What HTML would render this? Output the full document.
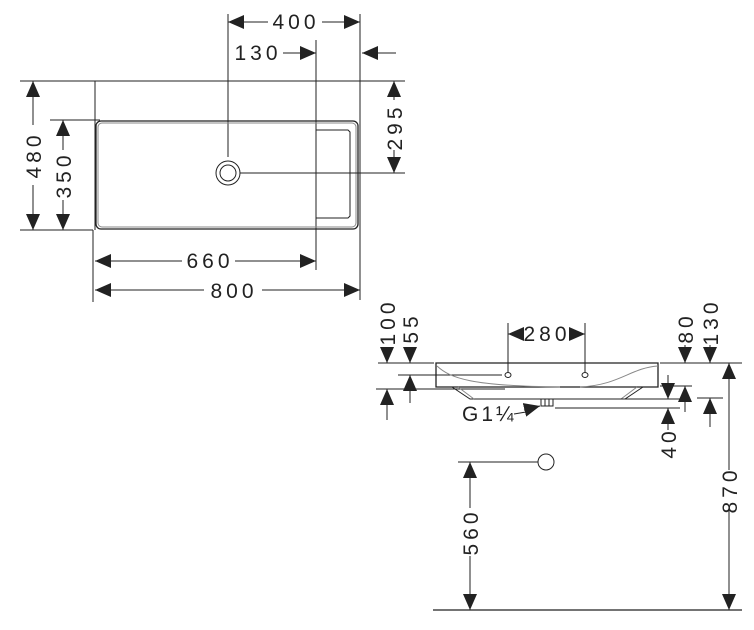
<!DOCTYPE html>
<html><head><meta charset="utf-8"><style>
html,body{margin:0;padding:0;background:#fff;width:754px;height:630px;overflow:hidden}
svg{display:block}
text{font-family:"Liberation Sans","DejaVu Sans",sans-serif;font-size:21px;fill:#222;letter-spacing:4px}
</style></head><body>
<svg width="754" height="630" viewBox="0 0 754 630" xmlns="http://www.w3.org/2000/svg">
<defs>
<marker id="a" viewBox="0 0 16 14" refX="16" refY="7" markerWidth="16" markerHeight="14" markerUnits="userSpaceOnUse" orient="auto-start-reverse"><path d="M0 0L16 7L0 14z" fill="#222"/></marker>
</defs>
<g stroke="#222" stroke-width="1" fill="none">
<line x1="20" y1="81" x2="405" y2="81"/>
<line x1="20" y1="230" x2="93" y2="230"/>
<line x1="50" y1="120" x2="100" y2="120"/>
<line x1="95" y1="81" x2="95" y2="230"/>
<line x1="93" y1="230" x2="93" y2="302"/>
<line x1="360" y1="14" x2="360" y2="300"/>
<line x1="228" y1="14" x2="228" y2="157"/>
<line x1="316" y1="40" x2="316" y2="270"/>
<rect x="96" y="121" width="262" height="108" rx="5" stroke-width="1.3"/>
<rect x="98" y="123" width="258" height="104" rx="4" stroke="#888"/>
<polyline points="316,130 348,130 350,132 350,216 348,218 316,218"/>
<circle cx="228" cy="173" r="12"/>
<circle cx="228" cy="173" r="8"/>
<line x1="240" y1="173" x2="405" y2="173"/>
<line x1="33" y1="125" x2="33" y2="81" marker-end="url(#a)"/>
<line x1="33" y1="185" x2="33" y2="230" marker-end="url(#a)"/>
<line x1="63" y1="150" x2="63" y2="120" marker-end="url(#a)"/>
<line x1="63" y1="200" x2="63" y2="230" marker-end="url(#a)"/>
<line x1="394" y1="100" x2="394" y2="81" marker-end="url(#a)"/>
<line x1="394" y1="150" x2="394" y2="173" marker-end="url(#a)"/>
<line x1="268" y1="22" x2="228" y2="22" marker-end="url(#a)"/>
<line x1="322" y1="22" x2="360" y2="22" marker-end="url(#a)"/>
<line x1="283" y1="53" x2="316" y2="53" marker-end="url(#a)"/>
<line x1="396" y1="53" x2="362" y2="53" marker-end="url(#a)"/>
<line x1="182" y1="261" x2="95" y2="261" marker-end="url(#a)"/>
<line x1="235" y1="261" x2="316" y2="261" marker-end="url(#a)"/>
<line x1="204" y1="290" x2="95" y2="290" marker-end="url(#a)"/>
<line x1="262" y1="290" x2="360" y2="290" marker-end="url(#a)"/>

<line x1="378" y1="363" x2="434" y2="363"/>
<line x1="660" y1="363" x2="742" y2="363"/>
<line x1="376" y1="389" x2="505" y2="389"/>
<line x1="398" y1="375" x2="502" y2="375"/>
<path d="M436 363H658V387H436Z" stroke-width="1.3"/>
<path d="M437 366C450 378 470 386 560 387" stroke="#888"/>
<path d="M658 366C630 368 620 385 580 387" stroke="#888"/>
<path d="M452 387L470 399H625L643 387"/>
<path d="M458 387L474 399M637 387L621 399" stroke="#888"/>
<rect x="541" y="399" width="12" height="7"/>
<line x1="545" y1="399" x2="545" y2="406"/><line x1="549" y1="399" x2="549" y2="406"/>
<line x1="553" y1="399" x2="680" y2="399"/>
<line x1="555" y1="408" x2="680" y2="408"/>
<line x1="660" y1="386" x2="692" y2="386"/>
<line x1="697" y1="398" x2="723" y2="398"/>
<ellipse cx="508" cy="375" rx="3" ry="2.5"/>
<ellipse cx="585" cy="375" rx="3" ry="2.5"/>
<line x1="508" y1="323" x2="508" y2="372"/>
<line x1="585" y1="323" x2="585" y2="372"/>
<line x1="524" y1="334" x2="508" y2="334" marker-end="url(#a)"/>
<line x1="569" y1="334" x2="585" y2="334" marker-end="url(#a)"/>
<line x1="387" y1="347" x2="387" y2="363" marker-end="url(#a)"/>
<line x1="387" y1="420" x2="387" y2="389" marker-end="url(#a)"/>
<line x1="410" y1="347" x2="410" y2="363" marker-end="url(#a)"/>
<line x1="410" y1="403" x2="410" y2="375" marker-end="url(#a)"/>
<line x1="685" y1="345" x2="685" y2="363" marker-end="url(#a)"/>
<line x1="685" y1="412" x2="685" y2="386" marker-end="url(#a)"/>
<line x1="710" y1="345" x2="710" y2="363" marker-end="url(#a)"/>
<line x1="710" y1="427" x2="710" y2="398" marker-end="url(#a)"/>
<line x1="668" y1="375" x2="668" y2="399" marker-end="url(#a)"/>
<line x1="668" y1="430" x2="668" y2="408" marker-end="url(#a)"/>
<line x1="729" y1="470" x2="729" y2="363" marker-end="url(#a)"/>
<line x1="729" y1="510" x2="729" y2="610" marker-end="url(#a)"/>
<line x1="514" y1="414" x2="526" y2="412"/>
<line x1="524" y1="410" x2="540" y2="406" marker-end="url(#a)"/>
<line x1="458" y1="462" x2="538" y2="462"/>
<circle cx="546" cy="462" r="8"/>
<line x1="470" y1="508" x2="470" y2="462" marker-end="url(#a)"/>
<line x1="470" y1="556" x2="470" y2="610" marker-end="url(#a)"/>
<line x1="433" y1="610" x2="742" y2="610" stroke-width="1.3"/>
</g>
<g>
<text x="296" y="29" text-anchor="middle">400</text>
<text x="258" y="60" text-anchor="middle">130</text>
<text x="210" y="268" text-anchor="middle">660</text>
<text x="234" y="298" text-anchor="middle">800</text>
<text transform="translate(41,155) rotate(-90)" text-anchor="middle">480</text>
<text transform="translate(71,175) rotate(-90)" text-anchor="middle">350</text>
<text transform="translate(402,127) rotate(-90)" text-anchor="middle">295</text>
<text x="547" y="341" text-anchor="middle">280</text>
<text transform="translate(395,322) rotate(-90)" text-anchor="middle">100</text>
<text transform="translate(418,328) rotate(-90)" text-anchor="middle">55</text>
<text transform="translate(693,328) rotate(-90)" text-anchor="middle">80</text>
<text transform="translate(718,322) rotate(-90)" text-anchor="middle">130</text>
<text transform="translate(676,443) rotate(-90)" text-anchor="middle">40</text>
<text transform="translate(737,490) rotate(-90)" text-anchor="middle">870</text>
<text transform="translate(478,532) rotate(-90)" text-anchor="middle">560</text>
<text x="462" y="421" style="letter-spacing:3px">G1¼</text>
</g>
</svg>
</body></html>
